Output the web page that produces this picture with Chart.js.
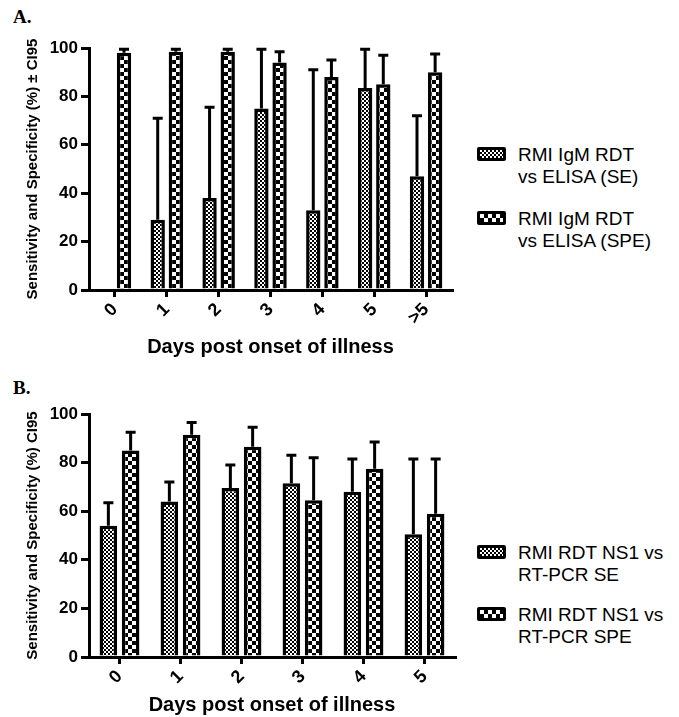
<!DOCTYPE html>
<html>
<head>
<meta charset="utf-8">
<script src="https://cdn.jsdelivr.net/npm/chart.js@4.4.1/dist/chart.umd.min.js"></script>
<style>
body{margin:0;background:#fff;}
#wrap{position:relative;width:679px;height:717px;overflow:hidden;font-family:"Liberation Sans",Arial,sans-serif;color:#000;}
canvas{position:absolute;left:0;}
.tag{position:absolute;left:13px;font-family:"Liberation Serif","Times New Roman",serif;font-weight:bold;font-size:19px;line-height:22px;}
.leg{position:absolute;left:477px;font-size:19px;line-height:22px;}
.sw{position:absolute;left:0;width:23px;height:8px;border:3px solid #000;border-radius:2px;}
.se{background:repeating-conic-gradient(#000 0 25%,#fff 0 50%) 0 0/4px 4px;}
.spe{background:repeating-conic-gradient(#000 0 25%,#fff 0 50%) 0 0/8px 8px;}
.txt{position:absolute;left:41px;top:0;white-space:nowrap;}
</style>
</head>
<body>
<div id="wrap">
  <div class="tag" style="top:6px">A.</div>
  <canvas id="chartA" width="460" height="365" style="top:0"></canvas>
  <div class="leg" style="top:144px"><div class="sw se" style="top:3px"></div><div class="txt">RMI IgM RDT<br>vs ELISA (SE)</div></div>
  <div class="leg" style="top:208px"><div class="sw spe" style="top:3px"></div><div class="txt">RMI IgM RDT<br>vs ELISA (SPE)</div></div>

  <div class="tag" style="top:377px">B.</div>
  <canvas id="chartB" width="460" height="352" style="top:365px"></canvas>
  <div class="leg" style="top:542px"><div class="sw se" style="top:3px"></div><div class="txt">RMI RDT NS1 vs<br>RT-PCR SE</div></div>
  <div class="leg" style="top:604px"><div class="sw spe" style="top:3px"></div><div class="txt">RMI RDT NS1 vs<br>RT-PCR SPE</div></div>
</div>
<script>
var F = '"Liberation Sans", Arial, sans-serif';

// panel A: RMI IgM RDT vs ELISA
var daysA = ['0', '1', '2', '3', '4', '5', '>5'];
var seA = [null, 29, 38, 75, 33, 83.5, 47];
var seAUpper = [null, 71, 75.5, 99.5, 91, 99.5, 72];
var speA = [98, 98.5, 98.5, 94, 88, 85, 90];
var speAUpper = [99.5, 99.5, 99.5, 98.5, 95, 97, 97.5];

// panel B: RMI RDT NS1 vs RT-PCR
var daysB = ['0', '1', '2', '3', '4', '5'];
var seB = [54, 64, 69.5, 71.5, 68, 50.5];
var seBUpper = [63.5, 72, 79, 83, 81.5, 81.5];
var speB = [85, 91.5, 86.5, 64.5, 77.5, 59];
var speBUpper = [92.5, 96.5, 94.5, 82, 88.5, 81.5];

var yTicks = [0, 20, 40, 60, 80, 100];

function checker(ctx, cell) {
	var c = document.createElement('canvas');
	c.width = cell * 2;
	c.height = cell * 2;
	var g = c.getContext('2d');
	g.fillStyle = '#fff';
	g.fillRect(0, 0, cell * 2, cell * 2);
	g.fillStyle = '#000';
	g.fillRect(0, 0, cell, cell);
	g.fillRect(cell, cell, cell, cell);
	return ctx.createPattern(c, 'repeat');
}

// upper CI whiskers with a cap
var errorBars = {
	id: 'errorBars',
	afterDatasetsDraw: function(chart) {
		var ctx = chart.ctx;
		var y = chart.scales.y;
		ctx.save();
		ctx.strokeStyle = '#000';
		ctx.lineWidth = 3;
		chart.data.datasets.forEach(function(ds, i) {
			var meta = chart.getDatasetMeta(i);
			meta.data.forEach(function(bar, j) {
				if (ds.data[j] == null || ds.upper[j] == null) return;
				var top = y.getPixelForValue(ds.upper[j]);
				ctx.beginPath();
				ctx.moveTo(bar.x, bar.y);
				ctx.lineTo(bar.x, top);
				ctx.moveTo(bar.x - 5, top);
				ctx.lineTo(bar.x + 5, top);
				ctx.stroke();
			});
		});
		ctx.restore();
	}
};

function makeChart(id, labels, se, seUp, spe, speUp, yTitle, s) {
	var ctx = document.getElementById(id).getContext('2d');
	return new Chart(ctx, {
		type: 'bar',
		data: {
			labels: labels,
			datasets: [
				{
					data: se,
					upper: seUp,
					backgroundColor: checker(ctx, 2),
					borderColor: '#000',
					borderWidth: 3.5,
					barPercentage: s.bar,
					categoryPercentage: s.cat
				},
				{
					data: spe,
					upper: speUp,
					backgroundColor: checker(ctx, 4),
					borderColor: '#000',
					borderWidth: 3.5,
					barPercentage: s.bar,
					categoryPercentage: s.cat
				}
			]
		},
		plugins: [errorBars],
		options: {
			responsive: false,
			animation: false,
			layout: { padding: { left: 0, top: s.top, right: s.right, bottom: 0 } },
			plugins: { legend: { display: false }, tooltip: { enabled: false } },
			scales: {
				x: {
					z: 1,
					afterFit: function(sc) { sc.height = s.xh; },
					grid: { drawOnChartArea: false, drawTicks: true, offset: false, tickLength: 7, lineWidth: 3, color: '#000' },
					border: { display: true, color: '#000', width: 3 },
					ticks: { color: '#000', autoSkip: false, maxRotation: 45, minRotation: 45, padding: 2, font: { family: F, size: 18, weight: 'bold' } },
					title: { display: true, text: 'Days post onset of illness', color: '#000', padding: { top: 0, bottom: s.xtPad }, font: { family: F, size: 20, weight: 'bold' } }
				},
				y: {
					z: 1,
					min: 0,
					max: 100,
					afterFit: function(sc) { sc.width = 89; },
					afterBuildTicks: function(sc) { sc.ticks = yTicks.map(function(v) { return { value: v }; }); },
					grid: { drawOnChartArea: false, drawTicks: true, tickLength: 8, lineWidth: 3, color: '#000' },
					border: { display: true, color: '#000', width: 3 },
					ticks: { color: '#000', padding: 3, font: { family: F, size: 17, weight: 'bold' } },
					title: { display: true, text: yTitle, color: '#000', padding: { top: 24, bottom: 0 }, font: { family: F, size: 15, weight: 'bold' } }
				}
			}
		}
	});
}

makeChart('chartA', daysA, seA, seAUpper, speA, speAUpper,
	'Sensitivity and Specificity (%) \u00b1 CI95',
	{ top: 48, right: 8, xh: 75, xtPad: 6, bar: 0.79, cat: 0.70 });

makeChart('chartB', daysB, seB, seBUpper, speB, speBUpper,
	'Sensitivity and Specificity (%) CI95',
	{ top: 49, right: 5, xh: 60, xtPad: 0, bar: 0.79, cat: 0.73 });
</script>
</body>
</html>
